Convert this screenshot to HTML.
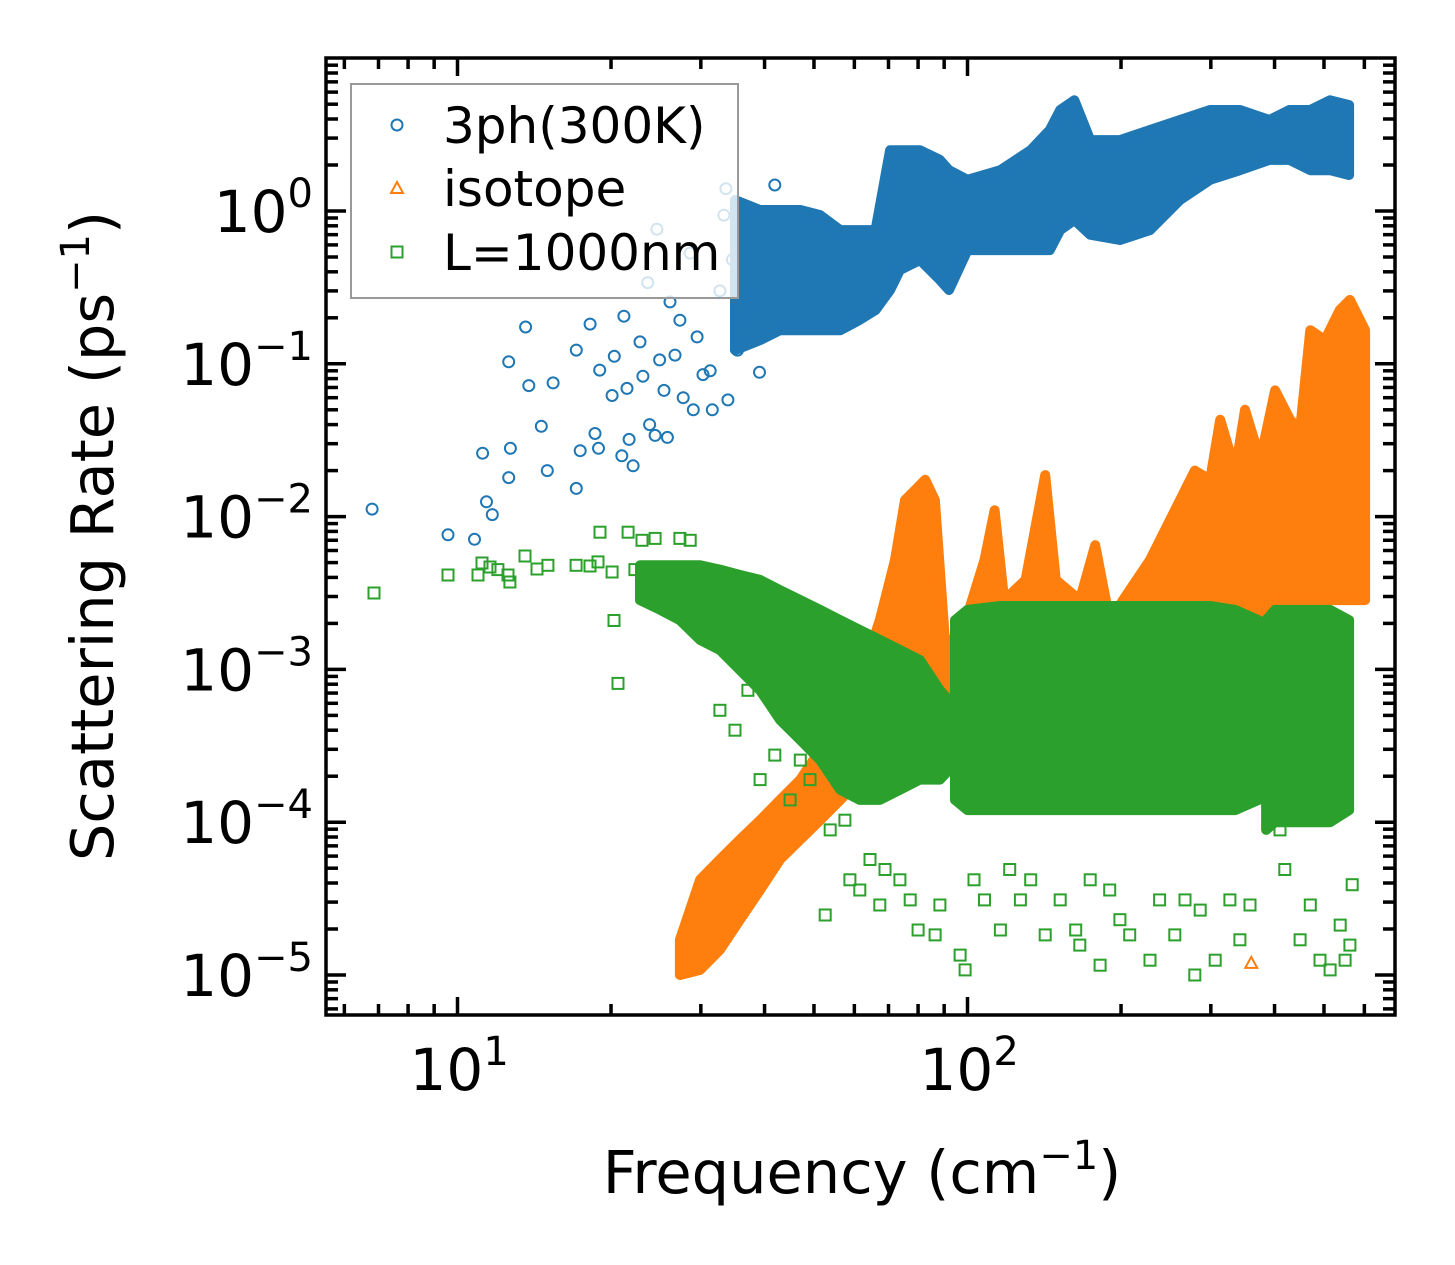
<!DOCTYPE html>
<html><head><meta charset="utf-8"><style>
html,body{margin:0;padding:0;background:#fff;}
svg{display:block;font-family:"DejaVu Sans","Liberation Sans",sans-serif;}
</style></head><body>
<svg id="chart" width="1455" height="1265" viewBox="0 0 1455 1265" xmlns="http://www.w3.org/2000/svg">
<rect x="0" y="0" width="1455" height="1265" fill="#fff"/>
<g id="marks"></g>
<g id="axes"></g>
<g>
<rect x="351" y="84" width="387" height="214" fill="rgba(255,255,255,0.8)" stroke="#999" stroke-width="2"/>
<circle cx="397" cy="125" r="5.5" fill="none" stroke="#1f77b4" stroke-width="2"/>
<text x="443" y="143" font-size="50">3ph(300K)</text>
<polygon points="397,182 403,193 391,193" fill="none" stroke="#ff7f0e" stroke-width="2"/>
<text x="443" y="206" font-size="50">isotope</text>
<rect x="391.5" y="246.5" width="11" height="11" fill="none" stroke="#2ca02c" stroke-width="2"/>
<text x="443" y="270" font-size="50">L=1000nm</text>
</g>
<text x="862" y="1193" font-size="59" text-anchor="middle">Frequency (cm<tspan dy="-24" font-size="40">−1</tspan><tspan dy="24">)</tspan></text>
<text transform="translate(113,536) rotate(-90)" font-size="59" text-anchor="middle">Scattering Rate (ps<tspan dy="-24" font-size="40">−1</tspan><tspan dy="24">)</tspan></text>
</svg>
<script>
// ---- data ----
const blueF = [6.8,9.58,10.8,11.2,11.4,11.7,12.6,12.6,12.7,13.6,13.8,14.6,15.0,15.4,17.1,17.1,17.4,18.2,18.6,18.9,19.0,20.1,20.3,21.0,21.2,21.5,21.7,22.1,22.8,23.1,23.6,23.8,24.4,24.6,24.9,25.4,25.8,26.1,26.7,27.3,27.7,28.6,29.0,29.5,30.3,31.3,31.6,32.7,33.3,33.6,33.9,34.6,35.4,36.6,37.8,39.1,41.9];
const blueR = [0.0112,0.0076,0.0071,0.026,0.0125,0.0103,0.103,0.018,0.028,0.174,0.072,0.039,0.020,0.075,0.123,0.0153,0.027,0.182,0.035,0.028,0.091,0.062,0.112,0.025,0.205,0.069,0.032,0.0215,0.139,0.083,0.34,0.040,0.034,0.76,0.106,0.067,0.033,0.254,0.114,0.193,0.06,0.53,0.05,0.15,0.085,0.09,0.05,0.30,0.94,1.4,0.058,0.48,0.123,0.19,0.26,0.088,1.48];
const blueBandF = [35.0,39.2,42.9,47.0,51.4,56.3,61.5,66,70.5,73.7,80.7,88.3,92,100,116,133,145,152,162,174,199,228,261,299,342,391,428,470,514,560];
const blueBandHi = [1.18,1.015,1.015,1.015,0.94,0.75,0.75,0.75,2.5,2.5,2.5,2.16,1.85,1.6,1.85,2.5,3.39,4.58,5.3,2.91,2.91,3.39,3.94,4.58,4.58,3.94,4.58,4.58,5.3,4.93];
const blueBandLo = [0.123,0.143,0.166,0.166,0.166,0.166,0.194,0.225,0.304,0.411,0.478,0.354,0.304,0.555,0.555,0.555,0.555,0.75,0.873,0.70,0.646,0.75,1.18,1.6,1.85,2.16,2.16,1.85,1.85,1.72];

const isoBandF = [27.3,29.9,32.7,35.8,39.2,42.9,47.0,51.4,56.3,61.5,67.3,72.1,75.4,78.9,82.6,86.3,90.3,96.6,108,113,118,130,142,149,166,178,190,208,228,244,261,279,299,313,335,350,375,401,429,449,470,502,537,562,602];
const isoBandHi = [1.7e-5,4.2e-5,5.7e-5,7.7e-5,1.03e-4,1.4e-4,1.9e-4,2.97e-4,4.67e-4,8.5e-4,2.1e-3,5.2e-3,1.28e-2,1.49e-2,1.74e-2,1.28e-2,1.56e-3,1.56e-3,5.2e-3,1.1e-2,2.84e-3,3.85e-3,1.87e-2,3.85e-3,2.84e-3,6.5e-3,2.1e-3,3.3e-3,5.2e-3,8.2e-3,1.28e-2,2.0e-2,1.74e-2,4.3e-2,2.0e-2,5.0e-2,2.35e-2,6.7e-2,4.3e-2,3.7e-2,0.166,0.143,0.225,0.262,0.166];
const isoBandLo = [1e-5,1.08e-5,1.46e-5,2.3e-5,3.6e-5,5.7e-5,7.7e-5,1.03e-4,1.4e-4,1.9e-4,2.55e-4,6.3e-4,1.15e-3,1.34e-3,1.15e-3,8.5e-4,4.67e-4,4.67e-4,4.67e-4,4.67e-4,4.67e-4,4.67e-4,4.67e-4,4.67e-4,4.67e-4,4.67e-4,4.67e-4,4.67e-4,4.67e-4,4.67e-4,4.67e-4,4.67e-4,4.67e-4,4.67e-4,4.67e-4,4.67e-4,4.67e-4,2.84e-3,2.84e-3,2.84e-3,2.84e-3,2.84e-3,2.84e-3,2.84e-3,2.84e-3];
const isoF = [442,360,336];
const isoR = [1.4e-4,1.2e-5,6.3e-4];

const bdyF = [6.86,9.58,10.97,11.17,11.58,12.0,12.56,12.67,13.56,14.32,15.04,17.08,18.19,18.86,19.03,20.1,20.27,20.64,21.6,22.28,23.0,24.4,26.1,27.3,28.6,29.9,
 32.7,35.0,37.1,39.2,41.9,44.9,47.0,49.1,52.6,53.8,57.5,58.8,61.5,64.4,67.3,68.9,73.7,77.2,80.0,86.4,88.3,96.7,98.9,103,108,116,121,127,133,142,152,163,166,174,182,190,199,208,228,238,255,267,279,286,306,327,342,358,410,419,449,470,491,514,538,550,562,568];
const bdyR = [3.16e-3,4.15e-3,4.15e-3,4.97e-3,4.68e-3,4.5e-3,4.15e-3,3.73e-3,5.52e-3,4.54e-3,4.8e-3,4.8e-3,4.75e-3,5.05e-3,7.9e-3,4.34e-3,2.09e-3,8.1e-4,7.9e-3,4.5e-3,7.0e-3,7.2e-3,4.15e-3,7.2e-3,7.0e-3,3.96e-3,
 5.4e-4,4.0e-4,7.3e-4,1.9e-4,2.75e-4,1.4e-4,2.55e-4,1.9e-4,2.47e-5,8.9e-5,1.03e-4,4.2e-5,3.6e-5,5.7e-5,2.87e-5,4.9e-5,4.2e-5,3.1e-5,1.97e-5,1.83e-5,2.87e-5,1.35e-5,1.08e-5,4.2e-5,3.1e-5,1.97e-5,4.9e-5,3.1e-5,4.2e-5,1.83e-5,3.1e-5,1.97e-5,1.57e-5,4.2e-5,1.16e-5,3.6e-5,2.3e-5,1.83e-5,1.25e-5,3.1e-5,1.83e-5,3.1e-5,1e-5,2.66e-5,1.25e-5,3.1e-5,1.7e-5,2.87e-5,8.9e-5,4.9e-5,1.7e-5,2.87e-5,1.25e-5,1.08e-5,2.12e-5,1.25e-5,1.57e-5,3.9e-5];
const bdyBandF = [22.8,25,27.3,29.9,32.7,35.8,39.2,42.9,47,51.4,56.3,61.5,67.3,73.7,80.7,88.3,92,null,94.5,100,116,133,152,174,199,228,261,299,335,372,null,385,401,429,470,514,560];
const bdyBandHi = [4.8e-3,4.8e-3,4.8e-3,4.8e-3,4.5e-3,4.15e-3,3.85e-3,3.3e-3,2.84e-3,2.45e-3,2.1e-3,1.81e-3,1.56e-3,1.34e-3,1.15e-3,7.3e-4,6.3e-4,null,2.1e-3,2.45e-3,2.6e-3,2.6e-3,2.6e-3,2.6e-3,2.6e-3,2.6e-3,2.6e-3,2.6e-3,2.45e-3,2.1e-3,null,2.1e-3,2.45e-3,2.45e-3,2.45e-3,2.45e-3,2.1e-3];
const bdyBandLo = [2.84e-3,2.45e-3,2.1e-3,1.56e-3,1.34e-3,9.9e-4,7.3e-4,4.67e-4,3.45e-4,2.55e-4,1.63e-4,1.4e-4,1.4e-4,1.63e-4,1.9e-4,1.9e-4,2.2e-4,null,1.4e-4,1.2e-4,1.2e-4,1.2e-4,1.2e-4,1.2e-4,1.2e-4,1.2e-4,1.2e-4,1.2e-4,1.2e-4,1.4e-4,null,8.9e-5,1.0e-4,1.0e-4,1.0e-4,1.0e-4,1.2e-4];

const xTickVals = [10,100];
const xTickLabels = ["1","2"];
const yTickVals = [1,0.1,0.01,0.001,1e-4,1e-5];
const yTickLabels = ["0","−1","−2","−3","−4","−5"];

// ---- axes ----
const L=326,R=1395,T=58,B=1015;
const X = f => 457.5 + 510*(Math.log10(f)-1);
const Y = r => 211 - 152.8*Math.log10(r);
const NS='http://www.w3.org/2000/svg';
const marks=document.getElementById('marks'), axes=document.getElementById('axes');
function mk(tag,attrs,parent){const e=document.createElementNS(NS,tag);for(const k in attrs)e.setAttribute(k,attrs[k]);parent.appendChild(e);return e;}

const defs=mk('defs',{},marks);
const cp=mk('clipPath',{id:'clip'},defs);
mk('rect',{x:L,y:T,width:R-L,height:B-T},cp);
const plot=mk('g',{'clip-path':'url(#clip)'},marks);



function band(F,Hi,Lo,color,name){
  let segs=[[]];
  F.forEach((f,i)=>{ if(f===null){segs.push([]);} else segs[segs.length-1].push(i); });
  segs.forEach((s,k)=>{
    if(s.length<2)return;
    const pts=s.map(i=>X(F[i]).toFixed(1)+','+Y(Hi[i]).toFixed(1)).concat(s.slice().reverse().map(i=>X(F[i]).toFixed(1)+','+Y(Lo[i]).toFixed(1)));
    const p=mk('polygon',{points:pts.join(' '),fill:color,stroke:color,'stroke-width':10,'stroke-linejoin':'round'},plot);
    
    
  });
}
function circles(F,Rr,color,name){
  F.forEach((f,i)=>{
    const c=mk('circle',{cx:X(f).toFixed(1),cy:Y(Rr[i]).toFixed(1),r:5.5,fill:'none',stroke:color,'stroke-width':2},plot);
    
    
  });
}
function tris(F,Rr,color,name){
  F.forEach((f,i)=>{
    const x=X(f),y=Y(Rr[i]);
    const c=mk('polygon',{points:`${x},${y-6} ${x+6},${y+5} ${x-6},${y+5}`,fill:'none',stroke:color,'stroke-width':2},plot);
    
    
  });
}
function squares(F,Rr,color,name){
  F.forEach((f,i)=>{
    const c=mk('rect',{x:(X(f)-5.5).toFixed(1),y:(Y(Rr[i])-5.5).toFixed(1),width:11,height:11,fill:'none',stroke:color,'stroke-width':2},plot);
    
    
  });
}
band(blueBandF,blueBandHi,blueBandLo,'#1f77b4','3ph');
circles(blueF,blueR,'#1f77b4','3ph');
band(isoBandF,isoBandHi,isoBandLo,'#ff7f0e','isotope');
tris(isoF,isoR,'#ff7f0e','isotope');
band(bdyBandF,bdyBandHi,bdyBandLo,'#2ca02c','boundary');
squares(bdyF,bdyR,'#2ca02c','boundary');

function line(x1,y1,x2,y2,name){const l=mk('line',{x1,y1,x2,y2,stroke:'#000','stroke-width':3.5},axes);}
for(let d=0;d<=2;d++){for(let m=1;m<=9;m++){const f=m*Math.pow(10,d);const x=X(f);if(x<L+2||x>R-2)continue;const len=(m===1)?18:11;
  line(x,B,x,B-len,'x-tick');line(x,T,x,T+len,'x-tick-top');}}
for(let d=-6;d<=1;d++){for(let m=1;m<=9;m++){const r=m*Math.pow(10,d);const y=Y(r);if(y<T+2||y>B-2)continue;const len=(m===1)?20:12;
  line(L,y,L+len,y,'y-tick');line(R,y,R-len,y,'y-tick-right');}}
const fr=mk('rect',{x:L,y:T,width:R-L,height:B-T,fill:'none',stroke:'#000','stroke-width':3.5},axes);


xTickVals.forEach((v,i)=>{
  const t=mk('text',{x:X(v)-48,y:1090,'font-size':58,'text-anchor':'start'},axes);
  
  
  t.innerHTML='10<tspan dy="-25" font-size="40">'+xTickLabels[i]+'</tspan>';
});
yTickVals.forEach((v,i)=>{
  const t=mk('text',{x:313,y:Y(v)+21,'font-size':58,'text-anchor':'end'},axes);
  
  
  t.innerHTML='10<tspan dy="-25" font-size="40">'+yTickLabels[i]+'</tspan>';
});
</script>
</body></html>
